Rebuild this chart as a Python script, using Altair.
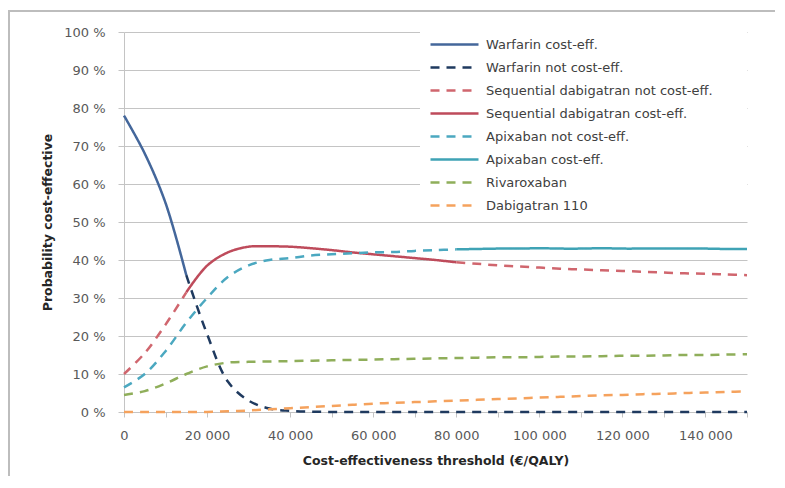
import altair as alt
import pandas as pd

# ---- data ----
thresholds = [0, 5000, 10000, 15000, 20000, 25000, 30000, 35000, 40000, 45000,
              50000, 55000, 60000, 65000, 70000, 75000, 80000, 85000, 90000, 95000,
              100000, 105000, 110000, 115000, 120000, 125000, 130000, 135000, 140000,
              145000, 150000]

warfarin = [78, 68, 55, 36, 20.5, 8, 3, 0.9, 0.3, 0.1, 0, 0, 0, 0, 0, 0, 0, 0, 0, 0,
            0, 0, 0, 0, 0, 0, 0, 0, 0, 0, 0]
sequential = [10, 15.5, 23, 31.5, 38.5, 42, 43.5, 43.6, 43.5, 43.1, 42.6, 42, 41.5, 41,
              40.5, 40, 39.4, 39, 38.6, 38.3, 38, 37.7, 37.5, 37.3, 37.1, 36.9, 36.7,
              36.5, 36.4, 36.2, 36.0]
apixaban = [6.5, 10, 16, 23.5, 30, 35.5, 38.6, 40, 40.5, 41.2, 41.5, 41.8, 42, 42.1,
            42.4, 42.6, 42.8, 42.9, 43, 43, 43.1, 43, 43, 43.1, 43, 43, 43, 43, 43,
            42.9, 42.9]
rivaroxaban = [4.5, 5.5, 7.5, 10, 12, 13, 13.2, 13.3, 13.4, 13.5, 13.6, 13.7, 13.8,
               13.9, 14, 14.1, 14.2, 14.3, 14.4, 14.4, 14.5, 14.6, 14.6, 14.7, 14.8,
               14.8, 14.9, 15, 15, 15.1, 15.2]
dabigatran110 = [0, 0, 0, 0, 0, 0.2, 0.4, 0.7, 1.0, 1.3, 1.6, 1.9, 2.2, 2.4, 2.6, 2.8,
                 3.0, 3.2, 3.4, 3.6, 3.8, 4.0, 4.2, 4.4, 4.5, 4.7, 4.8, 5.0, 5.1, 5.3,
                 5.4]

labels = ["Warfarin cost-eff.", "Warfarin not cost-eff.",
          "Sequential dabigatran not cost-eff.", "Sequential dabigatran cost-eff.",
          "Apixaban not cost-eff.", "Apixaban cost-eff.", "Rivaroxaban",
          "Dabigatran 110"]
colors = ["#44679B", "#1F3A5F", "#D0666E", "#BE4B5B", "#4BA8C0", "#3FA3B5",
          "#8FAE5A", "#F5A25D"]
dashes = [[1, 0], [9, 7], [9, 7], [1, 0], [9, 7], [1, 0], [9, 7], [9, 7]]

# (series label, values, first index, last index, segment id)
segments = [
    ("Warfarin cost-eff.", warfarin, 0, 3, "w1"),
    ("Warfarin not cost-eff.", warfarin, 3, 30, "w2"),
    ("Sequential dabigatran not cost-eff.", sequential, 0, 3, "s1"),
    ("Sequential dabigatran cost-eff.", sequential, 3, 16, "s2"),
    ("Sequential dabigatran not cost-eff.", sequential, 16, 30, "s3"),
    ("Apixaban not cost-eff.", apixaban, 0, 16, "a1"),
    ("Apixaban cost-eff.", apixaban, 16, 30, "a2"),
    ("Rivaroxaban", rivaroxaban, 0, 30, "r1"),
    ("Dabigatran 110", dabigatran110, 0, 30, "d1"),
]

rows = []
for label, values, i0, i1, seg in segments:
    for i in range(i0, i1 + 1):
        rows.append({"x": thresholds[i], "p": values[i], "series": label, "seg": seg})
df = pd.DataFrame(rows)

FONT = "DejaVu Sans"
GRID = "#C4C4C4"

legend = alt.Legend(
    orient="none", legendX=296, legendY=-2, title=None,
    symbolType="M-1,0H11", symbolSize=64, symbolStrokeWidth=2.5,
    labelFont=FONT, labelFontSize=13, labelColor="#404040", labelOffset=45,
    rowPadding=9, padding=8, labelLimit=400,
)

lines = alt.Chart(df).mark_line(strokeWidth=2.5, interpolate="catmull-rom").encode(
    x=alt.X("x:Q", scale=alt.Scale(domain=[0, 150000], nice=False),
            title="Cost-effectiveness threshold (€/QALY)",
            axis=alt.Axis(values=list(range(0, 150001, 10000)),
                          labelExpr="datum.value == 0 ? '0' : (datum.value % 20000 == 0 ? floor(datum.value / 1000) + ' 000' : '')",
                          labelFlush=False, labelOverlap=False,
                          grid=False, tickSize=5, tickColor=GRID, domainColor=GRID,
                          labelPadding=12, titlePadding=12)),
    y=alt.Y("p:Q", scale=alt.Scale(domain=[0, 100], nice=False),
            title="Probability cost-effective",
            axis=alt.Axis(values=list(range(0, 101, 10)),
                          labelExpr="datum.value + ' %'",
                          grid=True, gridColor=GRID, tickSize=6, tickColor=GRID,
                          domainColor=GRID, labelPadding=13, titlePadding=9)),
    color=alt.Color("series:N", scale=alt.Scale(domain=labels, range=colors), legend=legend),
    strokeDash=alt.StrokeDash("series:N", scale=alt.Scale(domain=labels, range=dashes), legend=legend),
    detail="seg:N",
)

legend_bg = alt.Chart(alt.Data(values=[{}])).mark_rect(fill="white").encode(
    x=alt.value(296), x2=alt.value(623), y=alt.value(-2), y2=alt.value(183))

frame = alt.Chart(alt.Data(values=[{}])).mark_rect(
    fill="transparent", stroke="#BDBDBD", strokeWidth=2).encode(
    x=alt.value(-115), x2=alt.value(700), y=alt.value(-21), y2=alt.value(500))

chart = alt.layer(frame, legend_bg, lines).properties(
    width=623, height=380,
    autosize=alt.AutoSizeParams(type="none"),
    padding={"left": 116, "top": 24, "right": 28, "bottom": 64},
).configure_view(strokeWidth=0).configure_axis(
    labelFont=FONT, labelFontSize=13, labelColor="#595959",
    titleFont=FONT, titleFontSize=12.5, titleFontWeight="bold", titleColor="#262626",
    domainWidth=1, gridWidth=1,
)

chart.save("out.html", embed_options={"renderer": "svg", "actions": False})
